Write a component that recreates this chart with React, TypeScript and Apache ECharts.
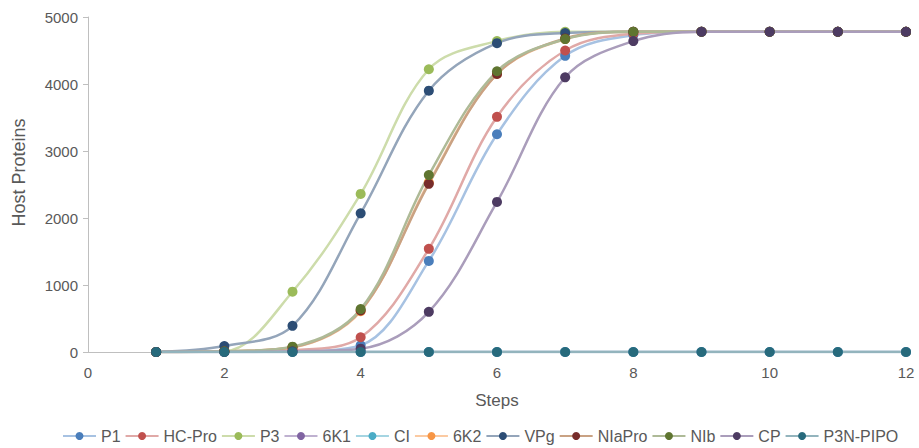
import React, { useEffect, useRef } from "react";
import * as echarts from "echarts";

const steps = [1, 2, 3, 4, 5, 6, 7, 8, 9, 10, 11, 12];
const seriesNames = ["P1", "HC-Pro", "P3", "6K1", "CI", "6K2", "VPg", "NIaPro", "NIb", "CP", "P3N-PIPO"];
const p1 = [0, 5, 10, 100, 1360, 3250, 4420, 4730, 4780, 4780, 4780, 4780];
const hcPro = [0, 10, 30, 220, 1540, 3510, 4500, 4750, 4780, 4780, 4780, 4780];
const p3 = [0, 10, 900, 2360, 4220, 4640, 4780, 4780, 4780, 4780, 4780, 4780];
const k61 = [0, 0, 0, 0, 0, 0, 0, 0, 0, 0, 0, 0];
const ci = [0, 0, 0, 0, 0, 0, 0, 0, 0, 0, 0, 0];
const k62 = [0, 10, 70, 610, 2530, 4150, 4670, 4780, 4780, 4780, 4780, 4780];
const vpg = [0, 90, 390, 2070, 3900, 4610, 4760, 4780, 4780, 4780, 4780, 4780];
const niaPro = [0, 10, 70, 620, 2510, 4150, 4680, 4780, 4780, 4780, 4780, 4780];
const nib = [0, 10, 80, 640, 2640, 4190, 4670, 4780, 4780, 4780, 4780, 4780];
const cp = [0, 0, 10, 50, 600, 2240, 4100, 4640, 4780, 4780, 4780, 4780];
const p3nPipo = [0, 0, 0, 0, 0, 0, 0, 0, 0, 0, 0, 0];
const allValues = [p1, hcPro, p3, k61, ci, k62, vpg, niaPro, nib, cp, p3nPipo];
const markerColors = ["#4a7ebb", "#c0504d", "#9bbb59", "#8064a2", "#4bacc6", "#f79646", "#2c4d75", "#772c2a", "#5f7530", "#4d3b62", "#276a7c"];
const lineColors = ["#a7c2e2", "#e0a9a7", "#cddcab", "#bfb1d0", "#a5d5e2", "#fbcaa2", "#94a5ba", "#c9a283", "#aeba97", "#aa9dbb", "#93b4bd"];

export default function App() {
  const ref = useRef<HTMLDivElement>(null);
  useEffect(() => {
    if (!ref.current) return;
    const chart = echarts.init(ref.current, undefined, { renderer: "svg" });
    const font = "Liberation Sans";
    chart.setOption({
      animation: false,
      textStyle: { fontFamily: font },
      grid: { left: 88, right: 13, top: 17, bottom: 96 },
      legend: {
        top: 428,
        left: 62,
        padding: 0,
        itemWidth: 33,
        itemHeight: 10,
        itemGap: 4,
        textStyle: { fontSize: 16, color: "#595959", fontFamily: font },
        data: seriesNames,
      },
      xAxis: {
        type: "value",
        min: 0,
        max: 12,
        interval: 2,
        name: "Steps",
        nameLocation: "middle",
        nameGap: 40,
        nameTextStyle: { fontSize: 17, color: "#595959", fontFamily: font },
        axisLine: { lineStyle: { color: "#bfbfbf", width: 1 } },
        axisTick: { show: false },
        axisLabel: { fontSize: 15, color: "#595959", margin: 13, fontFamily: font },
        splitLine: { show: false },
      },
      yAxis: {
        type: "value",
        min: 0,
        max: 5000,
        interval: 1000,
        name: "Host Proteins",
        nameLocation: "middle",
        nameGap: 60,
        nameTextStyle: { fontSize: 18, color: "#595959", fontFamily: font, padding: [0, 0, 0, 24] },
        axisLine: { show: true, lineStyle: { color: "#bfbfbf", width: 1 } },
        axisTick: { show: true, length: 5, lineStyle: { color: "#bfbfbf" } },
        axisLabel: { fontSize: 15, color: "#595959", margin: 10, fontFamily: font, formatter: (v: number) => String(v) },
        splitLine: { show: false },
      },
      series: seriesNames.map((name, i) => ({
        name,
        type: "line",
        smooth: 0.35,
        symbol: "circle",
        symbolSize: 10,
        data: steps.map((s, j) => [s, allValues[i][j]]),
        itemStyle: { color: markerColors[i] },
        lineStyle: { color: lineColors[i], width: 2.5 },
      })),
    });
    return () => chart.dispose();
  }, []);
  return <div ref={ref} style={{ position: "absolute", left: 0, top: 0, width: 919, height: 448 }} />;
}
